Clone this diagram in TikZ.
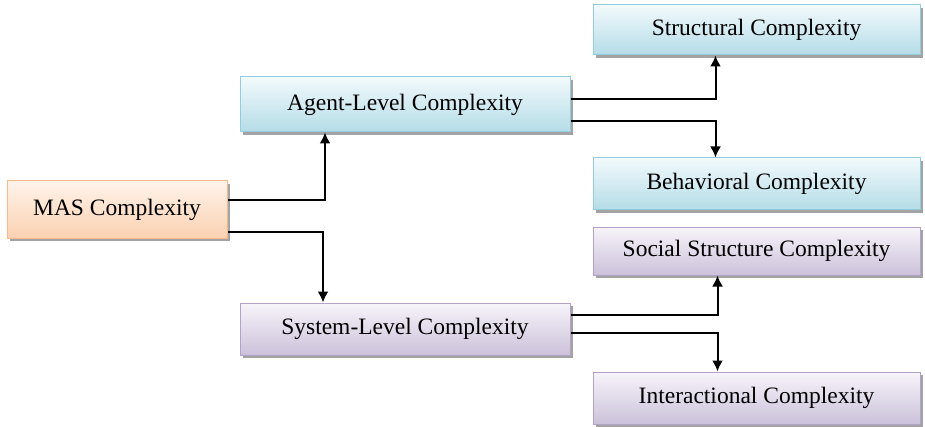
\documentclass[tikz,border=0pt]{standalone}
\usepackage{fontspec}
\setmainfont{Liberation Serif}
\usepackage{tikz}
\usetikzlibrary{arrows.meta,shadows}

% box colours
\definecolor{blueline}{HTML}{93CDDD}
\definecolor{bluetop}{HTML}{F2FAFC}
\definecolor{bluebot}{HTML}{B4DCE7}
\definecolor{orangeline}{HTML}{F9B98C}
\definecolor{orangetop}{HTML}{FFF3EA}
\definecolor{orangebot}{HTML}{FAD1B1}
\definecolor{purpleline}{HTML}{B3A2C7}
\definecolor{purpletop}{HTML}{F7F4FA}
\definecolor{purplebot}{HTML}{CCC1DA}

\tikzset{basic/.style={draw,line width=1pt,rectangle,
                       font=\fontsize{23.5}{27}\selectfont,
                       drop shadow={shadow xshift=3pt,shadow yshift=-3pt,
                                    fill=black!45,opacity=.8}}}

\begin{document}
\begin{tikzpicture}[x=1pt,y=1pt,>={Latex[length=11pt,width=11pt]},
      % one look per branch of the tree
      root/.style  ={basic, draw=orangeline, top color=orangetop, bottom color=orangebot},
      agentb/.style={basic, draw=blueline, top color=bluetop, bottom color=bluebot},
      systb/.style ={basic, draw=purpleline, top color=purpletop, bottom color=purplebot},
      link/.style  ={->, line width=2pt}
    ]
    \useasboundingbox (0,0) rectangle (925,426);

    % root and the two levels
    \node[root, minimum width=220pt, minimum height=57pt] (mas) at (117,216.5) {MAS Complexity};
    \node[agentb, minimum width=330pt, minimum height=55pt] (agent) at (405,321.5) {Agent-Level Complexity};
    \node[systb, minimum width=330pt, minimum height=52pt] (system) at (405,97) {System-Level Complexity};

    % leaves
    \node[agentb, minimum width=327pt, minimum height=50pt] (struct) at (756.5,396) {Structural Complexity};
    \node[agentb, minimum width=327pt, minimum height=52pt] (behav) at (756.5,242) {Behavioral Complexity};
    \node[systb, minimum width=327pt, minimum height=48pt] (social) at (756.5,175) {Social Structure Complexity};
    \node[systb, minimum width=327pt, minimum height=52pt] (inter) at (756.5,28) {Interactional Complexity};

    % root -> levels
    \draw[link] ([yshift=9pt]mas.east) -| ([xshift=-80pt]agent.south);
    \draw[link] ([yshift=-22pt]mas.east) -| ([xshift=-82pt]system.north);

    % levels -> leaves
    \draw[link] ([yshift=5pt]agent.east) -| ([xshift=-41pt]struct.south);
    \draw[link] ([yshift=-17pt]agent.east) -| ([xshift=-41pt]behav.north);
    \draw[link] ([yshift=14pt]system.east) -| ([xshift=-39pt]social.south);
    \draw[link] ([yshift=-4pt]system.east) -| ([xshift=-39pt]inter.north);
  \end{tikzpicture}
\end{document}
